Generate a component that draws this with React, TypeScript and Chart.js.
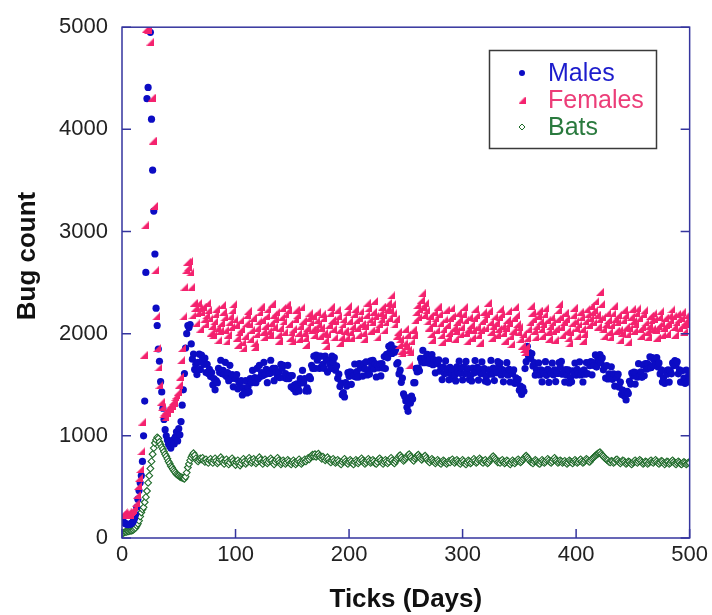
import React, { useEffect, useRef } from "react";
import { Chart, registerables } from "chart.js";

Chart.register(...registerables);

// ---- data (one value per tick / day) ----
const TICKS: number[] = Array.from({ length: 501 }, (_, i) => i);
const X_TICK_LABELS = [0, 100, 200, 300, 400, 500];
const Y_TICK_LABELS = [0, 1000, 2000, 3000, 4000, 5000];
const SERIES_NAMES = ["Males", "Females", "Bats"];

const MALES: number[] = [
  170, 160, 150, 140, 135, 130, 130, 135, 140, 150,
  165, 190, 230, 300, 380, 465, 540, 610, 750, 1000,
  1340, 2600, 4300, 4410, 5100, 4950, 4100, 3600, 3200, 2780,
  2250, 2080, 1850, 1730, 1530, 1430, 1270, 1160, 1060, 1000,
  960, 920, 900, 880, 930, 960, 920, 990, 1040, 950,
  1070, 1010, 1140, 1300, 1450, 1610, 1860, 2000, 2080, 2060,
  2090, 1900, 1750, 1800, 1650, 1700, 1600, 1720, 1800, 1650,
  1790, 1750, 1700, 1760, 1620, 1700, 1610, 1650, 1580, 1620,
  1500, 1560, 1450, 1540, 1520, 1660, 1620, 1740, 1610, 1640,
  1600, 1720, 1580, 1620, 1540, 1690, 1560, 1600, 1480, 1590,
  1560, 1600, 1460, 1520, 1480, 1540, 1400, 1470, 1430, 1540,
  1420, 1480, 1430, 1560, 1520, 1640, 1530, 1570, 1520, 1660,
  1560, 1690, 1580, 1620, 1590, 1720, 1600, 1650, 1520, 1640,
  1610, 1740, 1620, 1660, 1540, 1660, 1620, 1580, 1620, 1570,
  1700, 1660, 1690, 1570, 1610, 1560, 1690, 1560, 1590, 1480,
  1590, 1460, 1500, 1430, 1510, 1480, 1440, 1560, 1520, 1640,
  1520, 1560, 1440, 1470, 1440, 1580, 1560, 1690, 1660, 1780,
  1660, 1790, 1740, 1780, 1660, 1780, 1680, 1700, 1660, 1780,
  1743, 1624, 1737, 1702, 1658, 1781, 1718, 1765, 1642, 1684,
  1563, 1604, 1482, 1517, 1403, 1424, 1380, 1522, 1487, 1618,
  1583, 1626, 1504, 1617, 1586, 1703, 1575, 1628, 1574, 1706,
  1664, 1697, 1585, 1708, 1654, 1724, 1596, 1646, 1605, 1733,
  1684, 1738, 1656, 1707, 1576, 1695, 1664, 1704, 1586, 1706,
  1664, 1776, 1658, 1797, 1764, 1876, 1823, 1890, 1806, 1853,
  1818, 1846, 1703, 1716, 1606, 1643, 1524, 1566, 1410, 1384,
  1340, 1280, 1240, 1370, 1320, 1390, 1360, 1520, 1520, 1660,
  1626, 1664, 1637, 1758, 1723, 1836, 1716, 1765, 1724, 1797,
  1714, 1746, 1706, 1795, 1697, 1745, 1617, 1737, 1706, 1743,
  1632, 1668, 1551, 1674, 1609, 1733, 1617, 1655, 1548, 1671,
  1603, 1652, 1559, 1594, 1538, 1676, 1621, 1731, 1612, 1668,
  1547, 1673, 1608, 1728, 1631, 1659, 1552, 1589, 1537, 1664,
  1614, 1737, 1628, 1671, 1546, 1652, 1611, 1724, 1606, 1657,
  1535, 1581, 1526, 1647, 1619, 1738, 1603, 1662, 1541, 1644,
  1618, 1727, 1689, 1713, 1596, 1648, 1529, 1635, 1607, 1716,
  1594, 1652, 1527, 1633, 1608, 1645, 1514, 1568, 1529, 1552,
  1447, 1486, 1405, 1473, 1436, 1658, 1726, 1876, 1783, 1815,
  1757, 1806, 1684, 1716, 1594, 1648, 1607, 1714, 1596, 1647,
  1528, 1636, 1607, 1726, 1592, 1651, 1523, 1633, 1609, 1711,
  1597, 1646, 1531, 1638, 1611, 1717, 1676, 1728, 1604, 1633,
  1526, 1648, 1593, 1646, 1518, 1567, 1529, 1636, 1607, 1713,
  1594, 1651, 1608, 1724, 1596, 1632, 1527, 1647, 1603, 1717,
  1609, 1714, 1686, 1727, 1597, 1716, 1688, 1792, 1673, 1767,
  1736, 1795, 1714, 1763, 1646, 1673, 1566, 1687, 1557, 1608,
  1563, 1676, 1553, 1607, 1487, 1596, 1568, 1604, 1476, 1527,
  1406, 1447, 1396, 1426, 1352, 1436, 1415, 1534, 1507, 1614,
  1586, 1625, 1507, 1616, 1574, 1706, 1588, 1627, 1573, 1694,
  1587, 1706, 1653, 1707, 1664, 1774, 1667, 1765, 1686, 1735,
  1694, 1765, 1676, 1714, 1606, 1647, 1527, 1566, 1514, 1637,
  1604, 1647, 1526, 1633, 1607, 1714, 1686, 1736, 1694, 1726,
  1607, 1646, 1526, 1636, 1527, 1565, 1514, 1643, 1526, 1584,
  1550,
];

const FEMALES: number[] = [
  230, 240, 250, 240, 230, 250, 240, 230, 250, 260,
  270, 300, 340, 420, 510, 590, 675, 850, 1140, 1790,
  3060, 4985, 5150, 4975, 5200, 4860, 4310, 3890, 3250, 2620,
  2170, 1860, 1670, 1500, 1330, 1280, 1210, 1230, 1180, 1250,
  1220, 1280, 1260, 1310, 1290, 1340, 1320, 1380, 1400, 1430,
  1500, 1580, 1740, 1860, 2170, 2460, 2620, 2700, 2650, 2710,
  2600, 2460, 2180, 2300, 2250, 2100, 2200, 2300, 2250, 2050,
  2210, 2265, 2140, 2090, 2180, 2300, 2235, 2150, 2010, 2075,
  1985, 2120, 2190, 2245, 2060, 1940, 2030, 2105, 2280, 2215,
  2160, 2040, 1925, 1990, 2110, 2170, 2065, 2230, 2290, 2140,
  2085, 1960, 1890, 2015, 2130, 2050, 1915, 1860, 1975, 2100,
  2185, 2225, 2090, 1950, 2040, 2155, 1905, 1870, 1995, 2060,
  2120, 2210, 2265, 2135, 2020, 1965, 2080, 2175, 2240, 2030,
  1990, 2105, 2295, 2180, 2070, 2145, 2215, 1985, 1930, 2055,
  2160, 2250, 2120, 2020, 2190, 2285, 2230, 2095, 1960, 2015,
  1925, 2050, 2140, 2235, 2180, 2005, 1950, 2080, 2260, 2125,
  2010, 1955, 1890, 2060, 2155, 2205, 2110, 2040, 2175, 1985,
  2045, 2130, 2215, 2095, 1975, 2060, 2190, 2150, 2010, 1940,
  1880, 1995, 2085, 2200, 2265, 2135, 2050, 1965, 2120, 2230,
  2170, 2035, 1910, 1965, 2090, 2145, 2030, 1955, 2210, 2270,
  2125, 2020, 1960, 2075, 2190, 2240, 2130, 2060, 1985, 2150,
  2220, 2095, 2005, 1945, 2080, 2185, 2305, 2250, 2140, 2030,
  2110, 2215, 2320, 2175, 2050, 1965, 2090, 2200, 2140, 2265,
  2180, 2035, 2110, 2240, 2300, 2150, 2230, 2375, 2290, 2200,
  2090, 2145, 1980, 2020, 1890, 1950, 1835, 1810, 1905, 2045,
  1880, 1990, 1845, 1690, 1820, 1925, 2040, 1985, 2130, 2210,
  2280, 2165, 2240, 2330, 2395, 2260, 2185, 2300, 2230, 2120,
  2060, 2175, 1995, 1940, 2105, 2210, 2150, 2035, 2265, 2190,
  2100, 1985, 1920, 2045, 2140, 2230, 2085, 1960, 2010, 2155,
  2250, 2175, 2060, 1945, 2030, 2115, 2205, 2140, 1995, 2070,
  2190, 2260, 2130, 2010, 1925, 2050, 2165, 2085, 1960, 2035,
  2150, 2245, 2180, 2070, 1990, 1910, 2040, 2120, 2210, 2145,
  2055, 2190, 2300, 2225, 2110, 2020, 1960, 2080, 2170, 2105,
  1990, 2045, 2160, 2240, 2190, 2075, 2010, 1930, 2060, 2135,
  2220, 2105, 1975, 1900, 2030, 2150, 2260, 2180, 2095, 2015,
  2070, 1950, 1880, 1995, 1850, 1820, 1875, 1960, 2050, 2110,
  2270, 2205, 2140, 2030, 1965, 2080, 2175, 2225, 2120, 2045,
  1980, 2095, 2190, 2255, 2130, 2020, 1950, 2075, 2160, 2110,
  2025, 1935, 2050, 2140, 2230, 2290, 2165, 2070, 1990, 2115,
  2205, 2145, 2030, 1955, 1905, 2015, 2100, 2180, 2255, 2120,
  2060, 1975, 2090, 2210, 2160, 2045, 1930, 2000, 2125, 2240,
  2190, 2085, 2150, 2275, 2210, 2110, 2230, 2320, 2185, 2070,
  2140, 2410, 2290, 2160, 2050, 1980, 2095, 2200, 2135, 2020,
  1965, 2085, 2200, 2270, 2145, 2030, 2110, 2185, 2040, 1940,
  2010, 2130, 2235, 2180, 2070, 1995, 1920, 2060, 2165, 2240,
  2125, 2030, 2095, 2205, 2250, 2150, 2045, 1980, 2065, 2190,
  2230, 2110, 2020, 1965, 2080, 2175, 2130, 2050, 2200, 2145,
  2035, 1960, 2075, 2165, 2220, 2100, 1990, 2060, 2155, 2085,
  2000, 2090, 2180, 2130, 2240, 2170, 2065, 1990, 2110, 2195,
  2140, 2060, 2150, 2210, 2085, 2020, 2120, 2180, 2095, 2150,
  2160,
];

const BATS: number[] = [
  40, 50, 55, 60, 60, 65, 65, 70, 70, 75,
  80, 90, 100, 120, 140, 170, 210, 250, 280, 300,
  350, 400, 460, 540, 610, 680, 750, 820, 880, 930,
  960, 985, 975, 940, 915, 890, 870, 845, 820, 800,
  775, 750, 730, 705, 690, 670, 655, 640, 625, 615,
  610, 600, 595, 590, 585, 580, 600, 640, 690, 725,
  760, 790, 810, 830, 810, 780, 760, 750, 765, 780,
  770, 785, 760, 745, 770, 750, 735, 760, 775, 750,
  735, 760, 780, 755, 730, 745, 770, 790, 765, 740,
  725, 750, 770, 745, 720, 740, 765, 780, 755, 735,
  715, 740, 760, 735, 710, 730, 755, 775, 750, 725,
  740, 765, 785, 760, 735, 750, 775, 755, 730, 745,
  770, 790, 765, 740, 725, 750, 770, 750, 730, 745,
  765, 780, 760, 735, 720, 745, 765, 785, 760, 740,
  720, 735, 760, 745, 725, 740, 765, 750, 730, 720,
  740, 760, 740, 720, 735, 755, 770, 745, 725, 740,
  755, 770, 750, 765, 785, 770, 790, 805, 815, 800,
  820, 795, 810, 825, 805, 790, 775, 795, 780, 760,
  775, 790, 770, 750, 740, 760, 775, 755, 735, 745,
  765, 750, 730, 720, 745, 760, 775, 750, 735, 725,
  745, 765, 750, 730, 720, 745, 765, 750, 730, 745,
  765, 780, 760, 740, 725, 740, 760, 775, 755, 735,
  745, 765, 750, 730, 725, 745, 770, 780, 760, 740,
  725, 745, 765, 750, 730, 745, 770, 785, 760, 740,
  730, 750, 770, 785, 800, 810, 790, 770, 755, 765,
  780, 795, 810, 820, 800, 785, 765, 755, 775, 790,
  805, 815, 795, 780, 765, 780, 795, 805, 785, 765,
  750, 740, 760, 775, 760, 745, 730, 745, 765, 750,
  735, 725, 745, 760, 750, 735, 725, 740, 755, 740,
  760, 770, 750, 735, 750, 765, 750, 735, 725, 745,
  765, 750, 730, 720, 740, 760, 750, 730, 740, 760,
  775, 755, 735, 745, 765, 780, 765, 745, 735, 755,
  765, 745, 730, 740, 760, 775, 790, 800, 785, 770,
  755, 740, 750, 735, 755, 765, 745, 730, 740, 760,
  750, 730, 720, 740, 760, 745, 730, 745, 760, 770,
  755, 740, 750, 765, 780, 795, 805, 790, 775, 760,
  745, 740, 730, 750, 765, 755, 740, 730, 725, 745,
  765, 750, 735, 745, 760, 775, 760, 745, 735, 750,
  770, 785, 765, 750, 735, 745, 760, 750, 735, 745,
  755, 740, 725, 740, 760, 750, 740, 730, 750, 765,
  750, 735, 745, 760, 770, 750, 735, 745, 760, 775,
  765, 750, 745, 760, 775, 785, 795, 805, 815, 825,
  830, 840, 825, 810, 800, 785, 775, 765, 760, 745,
  740, 755, 750, 735, 745, 765, 770, 755, 740, 730,
  745, 760, 755, 740, 725, 735, 750, 745, 730, 720,
  735, 750, 760, 745, 735, 750, 765, 755, 740, 725,
  735, 750, 745, 725, 735, 750, 760, 745, 735, 750,
  765, 750, 735, 725, 740, 755, 750, 735, 720, 735,
  750, 745, 725, 735, 750, 760, 745, 730, 720, 735,
  750, 740, 725, 720, 735, 745, 735, 720, 730, 740,
  735,
];

// ---- styles ----
const FONT = '"Liberation Sans", Arial, Helvetica, sans-serif';
const FRAME_COLOR = "#35359e";
const MALE_COLOR = "#0c0cc4";
const FEMALE_COLOR = "#f4226e";
const BAT_COLOR = "#1f6b2a";
const LEGEND_TEXT = ["#1c1ccc", "#ec3d78", "#2a7a3e"];

function makeTriangle(size: number, color: string): HTMLCanvasElement {
  const c = document.createElement("canvas");
  c.width = size;
  c.height = size;
  const g = c.getContext("2d")!;
  g.fillStyle = color;
  g.beginPath();
  g.moveTo(0, size);
  g.lineTo(size, size);
  g.lineTo(size, 0);
  g.closePath();
  g.fill();
  return c;
}

export default function App() {
  const ref = useRef<HTMLCanvasElement | null>(null);

  useEffect(() => {
    document.body.style.margin = "0";
    const canvas = ref.current;
    if (!canvas) return;
    const tri = makeTriangle(8, FEMALE_COLOR);
    const legendTri = makeTriangle(7, FEMALE_COLOR);

    const decor = {
      id: "decor",
      afterDatasetsDraw(chart: any) {
        const { ctx, chartArea: a, scales } = chart;
        const xs = scales.x;
        const ys = scales.y;
        ctx.save();
        ctx.strokeStyle = FRAME_COLOR;
        ctx.lineWidth = 1.5;
        ctx.strokeRect(a.left, a.top, a.right - a.left, a.bottom - a.top);
        ctx.beginPath();
        Y_TICK_LABELS.forEach((v) => {
          const py = ys.getPixelForValue(v);
          ctx.moveTo(a.left, py);
          ctx.lineTo(a.left + 9, py);
          ctx.moveTo(a.right, py);
          ctx.lineTo(a.right - 9, py);
        });
        X_TICK_LABELS.forEach((v) => {
          const px = xs.getPixelForValue(v);
          ctx.moveTo(px, a.bottom);
          ctx.lineTo(px, a.bottom - 9);
        });
        ctx.stroke();

        // axis titles
        ctx.fillStyle = "#111";
        ctx.font = `bold 26px ${FONT}`;
        ctx.textAlign = "center";
        ctx.textBaseline = "middle";
        ctx.fillText("Ticks (Days)", (a.left + a.right) / 2, 600);
        ctx.save();
        ctx.translate(28, 256);
        ctx.rotate(-Math.PI / 2);
        ctx.fillText("Bug count", 0, 0);
        ctx.restore();

        // legend
        const bx = 489.5, by = 50.5, bw = 167, bh = 98;
        ctx.fillStyle = "#fff";
        ctx.fillRect(bx, by, bw, bh);
        ctx.strokeStyle = "#3a3a3a";
        ctx.lineWidth = 1.5;
        ctx.strokeRect(bx, by, bw, bh);
        const rows = [73, 100, 127];
        const mx = 522;
        ctx.fillStyle = MALE_COLOR;
        ctx.beginPath();
        ctx.arc(mx, rows[0], 3, 0, Math.PI * 2);
        ctx.fill();
        ctx.drawImage(legendTri, mx - 3.5, rows[1] - 3.5);
        ctx.strokeStyle = BAT_COLOR;
        ctx.fillStyle = "#fff";
        ctx.lineWidth = 1;
        ctx.beginPath();
        ctx.moveTo(mx, rows[2] - 3);
        ctx.lineTo(mx + 3, rows[2]);
        ctx.lineTo(mx, rows[2] + 3);
        ctx.lineTo(mx - 3, rows[2]);
        ctx.closePath();
        ctx.fill();
        ctx.stroke();
        ctx.font = `25px ${FONT}`;
        ctx.textAlign = "left";
        ctx.textBaseline = "middle";
        SERIES_NAMES.forEach((name, i) => {
          ctx.fillStyle = LEGEND_TEXT[i];
          ctx.fillText(name, 548, rows[i] + 1);
        });
        ctx.restore();
      },
    };

    const chart = new Chart(canvas, {
      type: "scatter",
      data: {
        datasets: [
          {
            label: SERIES_NAMES[1],
            data: TICKS.map((t, i) => ({ x: t, y: FEMALES[i] })),
            pointStyle: tri as any,
            pointRadius: 4,
            order: 0,
          },
          {
            label: SERIES_NAMES[0],
            data: TICKS.map((t, i) => ({ x: t, y: MALES[i] })),
            pointStyle: "circle",
            pointRadius: 3.6,
            backgroundColor: MALE_COLOR,
            borderColor: MALE_COLOR,
            borderWidth: 0,
            order: 1,
          },
          {
            label: SERIES_NAMES[2],
            data: TICKS.map((t, i) => ({ x: t, y: BATS[i] })),
            pointStyle: "rectRot",
            pointRadius: 3.4,
            backgroundColor: "#ffffff",
            borderColor: BAT_COLOR,
            borderWidth: 1.1,
            order: 2,
          },
        ],
      },
      options: {
        responsive: false,
        animation: false,
        devicePixelRatio: 1,
        layout: { padding: { top: 20, right: 22, left: 0, bottom: 0 } },
        plugins: { legend: { display: false }, tooltip: { enabled: false } },
        scales: {
          x: {
            type: "linear",
            min: 0,
            max: 500,
            ticks: {
              stepSize: 100,
              font: { family: FONT, size: 22 },
              color: "#222",
              padding: 4,
              callback: (v: any) => String(v),
            },
            grid: { display: false, drawTicks: false },
            border: { display: false },
            afterFit: (s: any) => {
              s.height = 77;
            },
          },
          y: {
            min: 0,
            max: 5000,
            ticks: {
              stepSize: 1000,
              font: { family: FONT, size: 22 },
              color: "#222",
              padding: 14,
              callback: (v: any) => String(v),
            },
            grid: { display: false, drawTicks: false },
            border: { display: false },
            afterFit: (s: any) => {
              s.width = 122;
            },
          },
        },
      },
      plugins: [decor],
    });
    return () => chart.destroy();
  }, []);

  return (
    <div style={{ width: 712, height: 615, background: "#fff" }}>
      <canvas ref={ref} width={712} height={615} style={{ display: "block" }} />
    </div>
  );
}
